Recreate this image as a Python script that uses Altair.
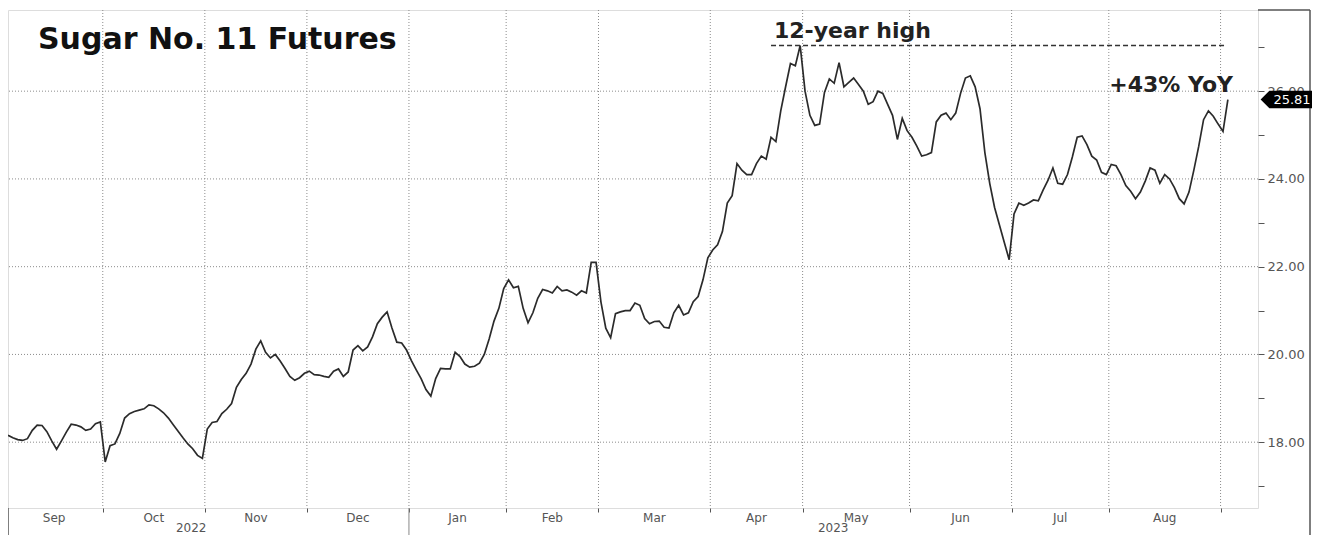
import altair as alt
import pandas as pd

# ---- data (one value per trading day, Sep 2022 - Sep 2023)
prices = [
    18.16, 18.10, 18.06, 18.04, 18.08, 18.27, 18.39, 18.38, 18.24, 18.03,
    17.84, 18.03, 18.23, 18.41, 18.39, 18.35, 18.27, 18.30, 18.42, 18.46,
    17.55, 17.92, 17.96, 18.20, 18.55, 18.65, 18.70, 18.73, 18.76, 18.85,
    18.83, 18.76, 18.67, 18.55, 18.40, 18.25, 18.10, 17.96, 17.85, 17.70,
    17.63, 18.30, 18.45, 18.47, 18.65, 18.75, 18.88, 19.25, 19.43, 19.57,
    19.78, 20.12, 20.31, 20.05, 19.92, 20.00, 19.85, 19.68, 19.50, 19.41,
    19.47, 19.57, 19.62, 19.54, 19.53, 19.50, 19.48, 19.62, 19.67, 19.50,
    19.60, 20.10, 20.20, 20.08, 20.17, 20.40, 20.70, 20.85, 20.97, 20.60,
    20.28, 20.26, 20.10, 19.86, 19.65, 19.45, 19.20, 19.05, 19.45, 19.68,
    19.67, 19.67, 20.05, 19.95, 19.78, 19.71, 19.73, 19.80, 20.00, 20.35,
    20.76, 21.05, 21.50, 21.70, 21.52, 21.55, 21.05, 20.72, 20.95, 21.28,
    21.48, 21.45, 21.40, 21.55, 21.45, 21.47, 21.42, 21.35, 21.45, 21.40,
    22.10, 22.10, 21.20, 20.60, 20.38, 20.93, 20.97, 21.00, 21.00, 21.17,
    21.12, 20.82, 20.70, 20.75, 20.76, 20.62, 20.60, 20.95, 21.12, 20.90,
    20.95, 21.20, 21.32, 21.70, 22.20, 22.38, 22.50, 22.80, 23.45, 23.62,
    24.35, 24.20, 24.10, 24.10, 24.35, 24.52, 24.45, 24.95, 24.85, 25.55,
    26.10, 26.63, 26.58, 27.04, 26.00, 25.45, 25.22, 25.25, 25.97, 26.28,
    26.18, 26.65, 26.10, 26.20, 26.30, 26.15, 26.00, 25.70, 25.76, 26.00,
    25.95, 25.70, 25.45, 24.90, 25.38, 25.10, 24.95, 24.75, 24.52, 24.55,
    24.60, 25.30, 25.45, 25.50, 25.35, 25.50, 25.95, 26.30, 26.35, 26.10,
    25.60, 24.60, 23.90, 23.35, 22.95, 22.55, 22.16, 23.20, 23.45, 23.40,
    23.45, 23.52, 23.50, 23.75, 23.97, 24.25, 23.90, 23.88, 24.10, 24.50,
    24.95, 24.98, 24.78, 24.52, 24.43, 24.15, 24.10, 24.33, 24.30, 24.10,
    23.85, 23.72, 23.55, 23.70, 23.95, 24.25, 24.20, 23.90, 24.10, 24.00,
    23.80, 23.55, 23.43, 23.70, 24.20, 24.74, 25.35, 25.55, 25.43, 25.25,
    25.08, 25.81,
]
month_names = ["Sep", "Oct", "Nov", "Dec", "Jan", "Feb", "Mar",
               "Apr", "May", "Jun", "Jul", "Aug"]
month_start_idx = [0, 20, 41, 62, 83, 103, 122, 145, 164, 186, 207, 227, 250]
year_labels = ["2022", "2023"]
year_label_idx = [37.7, 169.8]
y_grid_values = [18, 20, 22, 24, 26]
y_tick_values = list(range(17, 28))
title_text = "Sugar No. 11 Futures"
high_text = "12-year high"
yoy_text = "+43% YoY"

# ---- tables built from the arrays above
df = pd.DataFrame({"i": list(range(len(prices))), "v": prices})
bounds = [s - 0.5 for s in month_start_idx]
months_df = pd.DataFrame({
    "m": month_names,
    "mid": [(bounds[k] + bounds[k + 1]) / 2 for k in range(len(month_names))],
})
vgrid_df = pd.DataFrame({"b": bounds[1:]})
hgrid_df = pd.DataFrame({"g": y_grid_values})
years_df = pd.DataFrame({"t": year_labels, "x": year_label_idx})
peak = max(prices)
peak_df = pd.DataFrame({"x1": [157.0], "x2": [250.8], "y": [peak]})
notes_df = pd.DataFrame({
    "t": [high_text, yoy_text],
    "x": [157.6, 226.6],
    "y": [27.21, 25.98],
})
last_df = pd.DataFrame({"v": [prices[-1]], "t": [f"{prices[-1]:.2f}"]})
sep_df = pd.DataFrame({"b": [bounds[4]]})
dummy = pd.DataFrame({"a": [0]})

W, H = 1250, 498
FONT = "DejaVu Sans"
xs = alt.Scale(domain=[0, 257.2], nice=False, zero=False)
ys = alt.Scale(domain=[16.5, 27.85], nice=False, zero=False)

hgrid = alt.Chart(hgrid_df).mark_rule(color="#8c8c8c", strokeWidth=1, strokeDash=[1, 2]).encode(
    y=alt.Y("g:Q", scale=ys, axis=None)
)
vgrid = alt.Chart(vgrid_df).mark_rule(color="#8c8c8c", strokeWidth=1, strokeDash=[1, 2]).encode(
    x=alt.X("b:Q", scale=xs, axis=None)
)

line = alt.Chart(df).mark_line(color="#2b2b2b", strokeWidth=1.7).encode(
    x=alt.X("i:Q", scale=xs, axis=alt.Axis(
        values=bounds[1:], labels=False, tickSize=4, tickColor="#555",
        domain=False, grid=False, title=None)),
    y=alt.Y("v:Q", scale=ys, axis=alt.Axis(
        orient="right", values=y_tick_values,
        labelExpr="datum.value % 2 == 0 ? format(datum.value, '.2f') : ''",
        tickSize=6, tickColor="#555", domain=False, grid=False, title=None,
        labelFontSize=13, labelColor="#555", labelFont=FONT, labelPadding=3,
        labelOverlap=False)),
)

month_text = alt.Chart(months_df).mark_text(
    fontSize=12, font=FONT, color="#555", baseline="middle", align="center"
).encode(x=alt.X("mid:Q", scale=xs, axis=None), y=alt.value(H + 9.5), text="m:N")

year_text = alt.Chart(years_df).mark_text(
    fontSize=12, font=FONT, color="#555", baseline="middle", align="center"
).encode(x=alt.X("x:Q", scale=xs, axis=None), y=alt.value(H + 20), text="t:N")

peak_rule = alt.Chart(peak_df).mark_rule(color="#333", strokeWidth=1.5, strokeDash=[5, 3]).encode(
    x=alt.X("x1:Q", scale=xs, axis=None), x2="x2:Q", y=alt.Y("y:Q", scale=ys, axis=None)
)

notes = alt.Chart(notes_df).mark_text(
    fontSize=22, font=FONT, fontWeight="bold", color="#222", align="left", baseline="alphabetic"
).encode(x=alt.X("x:Q", scale=xs, axis=None), y=alt.Y("y:Q", scale=ys, axis=None), text="t:N")

title = alt.Chart(dummy).mark_text(
    text=title_text, fontSize=30, font=FONT, fontWeight="bold", color="#111",
    align="left", baseline="alphabetic"
).encode(x=alt.value(30), y=alt.value(39))

box_path = "M-1,0L-0.68,-0.32L1,-0.32L1,0.32L-0.68,0.32Z"
last_box = alt.Chart(last_df).mark_point(
    shape=box_path, size=3000, filled=True, color="#000", opacity=1, strokeWidth=0
).encode(x=alt.value(1280), y=alt.Y("v:Q", scale=ys, axis=None))
last_text = alt.Chart(last_df).mark_text(
    fontSize=13, font=FONT, color="#fff", align="center", baseline="middle"
).encode(x=alt.value(1284), y=alt.Y("v:Q", scale=ys, axis=None), text="t:N")

frame_color = "#555"
outer_right = alt.Chart(dummy).mark_rule(color=frame_color, strokeWidth=1.5).encode(
    x=alt.value(1302), y=alt.value(0), y2=alt.value(H + 40))
outer_top = alt.Chart(dummy).mark_rule(color=frame_color, strokeWidth=1.5).encode(
    x=alt.value(W), x2=alt.value(1302), y=alt.value(0))
outer_left = alt.Chart(dummy).mark_rule(color=frame_color, strokeWidth=1.5).encode(
    x=alt.value(0), y=alt.value(H), y2=alt.value(H + 40))
year_sep = alt.Chart(sep_df).mark_rule(color="#888", strokeWidth=1).encode(
    x=alt.X("b:Q", scale=xs, axis=None), y=alt.value(H), y2=alt.value(H + 40))

chart = alt.layer(
    hgrid, vgrid, line, month_text, year_text, peak_rule, notes, title,
    outer_right, outer_top, outer_left, year_sep, last_box, last_text,
).resolve_axis(
    x="independent", y="independent"
).properties(
    width=W, height=H,
    autosize=alt.AutoSizeParams(type="none"),
    padding={"left": 0, "top": 2, "right": 54, "bottom": 27},
    background="white",
).configure_view(
    stroke=frame_color, strokeWidth=1.5
).configure(font=FONT)

chart.save("out.html", embed_options={"renderer": "svg", "actions": False})
